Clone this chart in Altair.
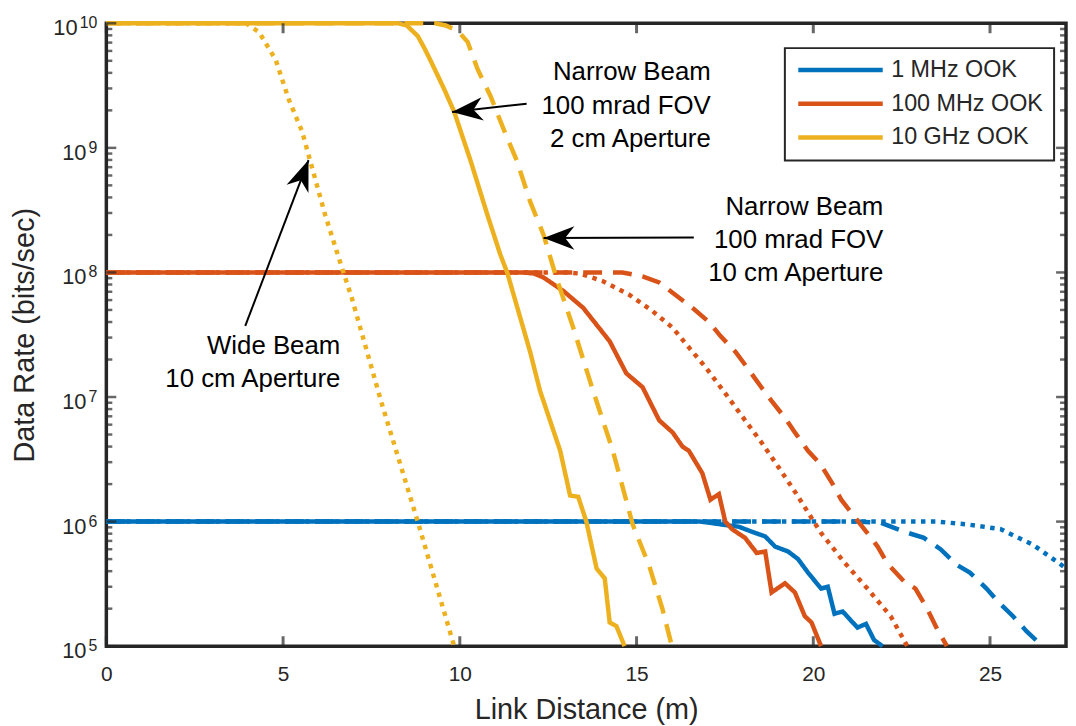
import altair as alt
import pandas as pd

FONT = "Liberation Sans"
AX = "#262626"

# ---------------- categories ----------------
FREQS = ["1 MHz OOK", "100 MHz OOK", "10 GHz OOK"]
FREQ_COLORS = ["#0072BD", "#D95319", "#EDB120"]
SETUPS = ["Narrow beam, 2 cm aperture", "Narrow beam, 10 cm aperture", "Wide beam, 10 cm aperture"]
SETUP_DASH = [[1, 0], [19, 11], [4.5, 5.5]]

# ---------------- series (link distance m, data rate bits/s) ----------------
mhz1_n2_x = [0, 16.8, 17.05, 17.61, 17.89, 18.26, 18.64, 18.92, 19.29, 19.57, 19.85, 20.22, 20.41, 20.60, 20.83, 21.25, 21.49, 21.72, 21.96]
mhz1_n2_y = [1e6, 1e6, 9.8e5, 9.3e5, 9.1e5, 8.3e5, 7.6e5, 6.3e5, 5.75e5, 5.0e5, 3.9e5, 2.9e5, 3.0e5, 1.82e5, 1.9e5, 1.41e5, 1.51e5, 1.12e5, 1.0e5]
mhz1_n10_x = [0, 21.2, 21.9, 22.57, 23.13, 23.6, 24.06, 24.43, 24.9, 25.28, 25.65, 26.03, 26.49]
mhz1_n10_y = [1e6, 1e6, 9.8e5, 8.3e5, 7.4e5, 6.0e5, 4.5e5, 3.9e5, 2.9e5, 2.2e5, 1.74e5, 1.32e5, 1.0e5]
mhz1_w10_x = [0, 23.5, 24.34, 25.3, 26.22, 26.97, 27.15]
mhz1_w10_y = [1e6, 1e6, 9.5e5, 8.7e5, 6.5e5, 4.6e5, 4.2e5]

mhz100_n2_x = [0, 11.8, 12.1, 12.37, 12.93, 13.49, 13.87, 14.24, 14.71, 15.17, 15.64, 16.02, 16.30, 16.48, 16.86, 17.09, 17.33, 17.51, 17.70, 18.07, 18.40, 18.64, 18.82, 19.2, 19.48, 19.76, 19.95, 20.22]
mhz100_n2_y = [1e8, 1e8, 9.8e7, 9.1e7, 7.1e7, 5.2e7, 3.8e7, 2.8e7, 1.55e7, 1.2e7, 6.5e6, 5.2e6, 4.0e6, 3.7e6, 2.45e6, 1.5e6, 1.66e6, 1.0e6, 8.7e5, 7.4e5, 5.6e5, 5.75e5, 2.7e5, 3.2e5, 2.7e5, 1.74e5, 1.55e5, 1.0e5]
mhz100_n10_x = [0, 14.6, 15.17, 15.64, 16.58, 17.05, 17.37, 17.8, 18.12, 18.5, 18.82, 19.2, 19.48, 19.85, 20.2, 20.55, 20.79, 21.16, 21.53, 21.82, 22.1, 22.57, 22.89, 23.22, 23.5, 23.78]
mhz100_n10_y = [1e8, 1e8, 9.3e7, 8.3e7, 5.2e7, 4.0e7, 3.1e7, 2.3e7, 1.74e7, 1.23e7, 9.3e6, 6.8e6, 5.2e6, 3.7e6, 2.9e6, 2.0e6, 1.5e6, 1.1e6, 8.1e5, 6.3e5, 4.6e5, 3.3e5, 2.9e5, 2.0e5, 1.38e5, 1.0e5]
mhz100_w10_x = [0, 13.0, 13.4, 14.05, 14.8, 15.45, 16.02, 16.48, 16.95, 17.51, 18.07, 18.54, 19.01, 19.48, 20.22, 20.88, 21.53, 22.19, 22.66]
mhz100_w10_y = [1e8, 1e8, 9.8e7, 8.5e7, 6.6e7, 4.9e7, 3.6e7, 2.5e7, 1.74e7, 1.07e7, 6.5e6, 4.3e6, 2.75e6, 1.74e6, 8.1e5, 4.7e5, 2.9e5, 1.74e5, 1.0e5]

ghz10_n2_x = [0, 8.25, 8.5, 8.81, 9.0, 9.19, 9.56, 9.84, 10.31, 10.78, 11.15, 11.34, 11.99, 12.27, 12.84, 13.12, 13.35, 13.58, 13.87, 14.1, 14.24, 14.43, 14.66]
ghz10_n2_y = [1e10, 1e10, 9.6e9, 7.9e9, 6.3e9, 4.9e9, 2.95e9, 1.95e9, 7.8e8, 2.9e8, 1.38e8, 1.0e8, 2.3e7, 1.12e7, 3.7e6, 1.62e6, 1.58e6, 1.0e6, 4.2e5, 3.5e5, 1.55e5, 1.45e5, 1.0e5]
ghz10_n10_x = [0, 9.3, 9.6, 9.94, 10.22, 10.5, 10.87, 11.24, 11.62, 11.99, 12.37, 12.74, 13.21, 13.77, 14.33, 14.89, 15.36, 15.73, 16.0]
ghz10_n10_y = [1e10, 1e10, 9.6e9, 8.7e9, 7.1e9, 4.3e9, 2.6e9, 1.41e9, 7.8e8, 3.7e8, 2.0e8, 8.9e7, 3.6e7, 1.12e7, 3.7e6, 9.5e5, 4.4e5, 2.0e5, 1.0e5]
ghz10_w10_x = [0, 3.95, 4.32, 4.79, 5.16, 5.54, 5.77, 6.19, 6.66, 6.94, 7.77, 8.81, 9.84]
ghz10_w10_y = [1e10, 1e10, 8.5e9, 5.1e9, 2.45e9, 1.35e9, 7.8e8, 2.9e8, 1.1e8, 6.3e7, 9.3e6, 1.0e6, 1.0e5]

# ---------------- axes ----------------
X_DOMAIN = [0, 27.15]
Y_DOMAIN = [1e5, 1e10]
X_TICKS = [0, 5, 10, 15, 20, 25]
Y_LABEL_EXP = [5, 6, 7, 8, 9, 10]
Y_MAJOR = [1e5, 1e6, 1e7, 1e8, 1e9, 1e10]
Y_MINOR = [m * 10 ** k for k in range(5, 10) for m in range(2, 10)]

# ---------------- annotations ----------------
ANNOT_TEXT = ["Narrow Beam\n100 mrad FOV\n2 cm Aperture",
              "Narrow Beam\n100 mrad FOV\n10 cm Aperture",
              "Wide Beam\n10 cm Aperture"]
ANNOT_X = [17.1, 21.98, 6.62]
ANNOT_Y = [3.49e9, 2.9e8, 2.23e7]
ARROW_TAIL_X = [11.89, 16.62, 3.93]
ARROW_TAIL_Y = [2.26e9, 1.91e8, 3.72e7]
ARROW_TIP_X = [9.78, 12.37, 5.72]
ARROW_TIP_Y = [1.94e9, 1.89e8, 7.98e8]
ARROW_ANGLE = [174, 180, 291]

# ---------------- build table ----------------
series = [
    (FREQS[0], SETUPS[0], mhz1_n2_x, mhz1_n2_y),
    (FREQS[0], SETUPS[1], mhz1_n10_x, mhz1_n10_y),
    (FREQS[0], SETUPS[2], mhz1_w10_x, mhz1_w10_y),
    (FREQS[1], SETUPS[0], mhz100_n2_x, mhz100_n2_y),
    (FREQS[1], SETUPS[1], mhz100_n10_x, mhz100_n10_y),
    (FREQS[1], SETUPS[2], mhz100_w10_x, mhz100_w10_y),
    (FREQS[2], SETUPS[0], ghz10_n2_x, ghz10_n2_y),
    (FREQS[2], SETUPS[1], ghz10_n10_x, ghz10_n10_y),
    (FREQS[2], SETUPS[2], ghz10_w10_x, ghz10_w10_y),
]
rows = []
for f, s, xs, ys in series:
    for i, (xv, yv) in enumerate(zip(xs, ys)):
        rows.append({"freq": f, "setup": s, "x": xv, "rate": yv, "i": i})
df = pd.DataFrame(rows)

xscale = alt.Scale(domain=X_DOMAIN, nice=False, zero=False)
yscale = alt.Scale(type="log", domain=Y_DOMAIN, nice=False)
cscale = alt.Scale(domain=FREQS, range=FREQ_COLORS)
dscale = alt.Scale(domain=SETUPS, range=SETUP_DASH)

legend = alt.Legend(title=None, orient="none", legendX=683, legendY=25, symbolType="stroke",
                    symbolSize=7225, symbolStrokeWidth=4.5, clipHeight=22, rowPadding=10,
                    labelFont=FONT, labelFontSize=23.5, labelColor=AX, labelOffset=6,
                    padding=11, strokeColor=AX, fillColor="white", symbolOpacity=1)


def lines(freq):
    return alt.Chart(df).transform_filter(alt.datum.freq == freq).mark_line(strokeWidth=4.5).encode(
        x=alt.X("x:Q", scale=xscale, title="Link Distance (m)", axis=alt.Axis(values=X_TICKS)),
        y=alt.Y("rate:Q", scale=yscale, title="Data Rate (bits/sec)"),
        color=alt.Color("freq:N", scale=cscale, legend=legend),
        strokeDash=alt.StrokeDash("setup:N", scale=dscale, legend=None),
        order="i:Q",
    )


# ---------------- tick decorations (inward, MATLAB style) ----------------
xt = pd.DataFrame({"x": X_TICKS})
ymaj = pd.DataFrame({"y": Y_MAJOR})
ymin = pd.DataFrame({"y": Y_MINOR})


def xticks(ypos, off):
    return alt.Chart(xt).mark_tick(orient="vertical", size=10, thickness=3, color=AX, yOffset=off).encode(
        x=alt.X("x:Q", scale=xscale),
        y=alt.YDatum(ypos, scale=yscale),
    )


def yticks(data, xpos, size, off):
    return alt.Chart(data).mark_tick(orient="horizontal", size=size, thickness=2.5, color=AX, xOffset=off).encode(
        x=alt.XDatum(xpos, scale=xscale),
        y=alt.Y("y:Q", scale=yscale),
    )


ticks = [
    xticks(Y_DOMAIN[0], -5), xticks(Y_DOMAIN[1], 5),
    yticks(ymaj, X_DOMAIN[0], 10, 5), yticks(ymaj, X_DOMAIN[1], 10, -5),
    yticks(ymin, X_DOMAIN[0], 6, 3), yticks(ymin, X_DOMAIN[1], 6, -3),
]

# ---------------- y tick labels 10^n ----------------
ylab = pd.DataFrame({"e": Y_LABEL_EXP, "base": ["10"] * len(Y_LABEL_EXP),
                     "sup": [str(e) for e in Y_LABEL_EXP]})


def ylabel_layer(filt, text_field, size, dx, dy):
    return alt.Chart(ylab).transform_filter(filt).transform_calculate(v="pow(10, datum.e)").mark_text(
        align="right", baseline="alphabetic", font=FONT, fontSize=size, color=AX, dx=dx, dy=dy).encode(
        x=alt.XDatum(X_DOMAIN[0], scale=xscale),
        y=alt.Y("v:Q", scale=yscale),
        text=f"{text_field}:N",
    )


ylabels = [
    ylabel_layer("datum.e < 10", "base", 22, -20, 12),
    ylabel_layer("datum.e >= 10", "base", 22, -29, 12),
    ylabel_layer("datum.e > 0", "sup", 16, -9, 5),
]

# ---------------- annotations ----------------
ann = pd.DataFrame({"x": ANNOT_X, "y": ANNOT_Y, "t": ANNOT_TEXT})
annot = alt.Chart(ann).mark_text(align="right", baseline="alphabetic", lineBreak="\n", lineHeight=33.5,
                                 font=FONT, fontSize=26, color="black").encode(
    x=alt.X("x:Q", scale=xscale),
    y=alt.Y("y:Q", scale=yscale),
    text="t:N",
)

arr = pd.DataFrame({"x1": ARROW_TAIL_X, "y1": ARROW_TAIL_Y, "x2": ARROW_TIP_X, "y2": ARROW_TIP_Y,
                    "ang": ARROW_ANGLE})
arrow_lines = alt.Chart(arr).mark_rule(strokeWidth=2, color="black").encode(
    x=alt.X("x1:Q", scale=xscale),
    y=alt.Y("y1:Q", scale=yscale),
    x2="x2:Q",
    y2="y2:Q",
)
arrow_heads = alt.Chart(arr).mark_point(shape="M0,0L-1,-0.38L-0.7,0L-1,0.38Z", filled=True,
                                        size=3844, color="black", opacity=1, strokeWidth=0).encode(
    x=alt.X("x2:Q", scale=xscale),
    y=alt.Y("y2:Q", scale=yscale),
    angle=alt.Angle("ang:Q", scale=None),
)

chart = alt.layer(
    lines(FREQS[0]), lines(FREQS[1]), lines(FREQS[2]),
    *ticks, *ylabels, annot, arrow_lines, arrow_heads,
).properties(
    width=966, height=627,
    autosize=alt.AutoSizeParams(type="none"),
    padding={"left": 99, "top": 13, "right": 2, "bottom": 84},
).configure_view(
    stroke=AX, strokeWidth=3.5
).configure_legend(
    strokeWidth=2
).configure_axis(
    grid=False, domain=False, ticks=False, tickSize=0,
    labelFont=FONT, labelColor=AX, titleFont=FONT, titleColor=AX,
    titleFontWeight="normal", titleFontSize=29,
).configure_axisX(
    labelFontSize=21, labelPadding=18, labelFlush=False, labelOverlap=False, titlePadding=11,
).configure_axisY(
    labels=False, titlePadding=67,
)

chart.save("out.html", embed_options={"renderer": "svg", "actions": False})
